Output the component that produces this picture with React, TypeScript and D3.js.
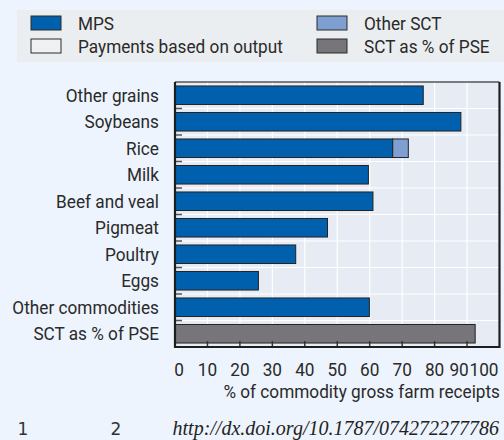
import React, { useEffect, useRef } from 'react';
import * as d3 from 'd3';

const categories = [
  'Other grains', 'Soybeans', 'Rice', 'Milk', 'Beef and veal',
  'Pigmeat', 'Poultry', 'Eggs', 'Other commodities', 'SCT as % of PSE',
];
const mps = [76.5, 88.1, 67.1, 59.6, 61.0, 47.0, 37.2, 25.7, 59.9, 0];
const otherSct = [0, 0, 4.8, 0, 0, 0, 0, 0, 0, 0];
const outputPayments = [0, 0, 0, 0, 0, 0, 0, 0, 0, 0];
const sctPse = [0, 0, 0, 0, 0, 0, 0, 0, 0, 92.5];
const xTicks = [0, 10, 20, 30, 40, 50, 60, 70, 80, 90, 100];

const legendItems = [
  { label: 'MPS', color: '#0060ae' },
  { label: 'Payments based on output', color: '#eff1f2' },
  { label: 'Other SCT', color: '#7f9fd3' },
  { label: 'SCT as % of PSE', color: '#777579' },
];

const FONT = 'Roboto, sans-serif';
const FS = 18.5;
const SX = 0.93;

type Sel = d3.Selection<SVGGElement, unknown, null, undefined>;

// condensed-looking label: Roboto squeezed horizontally
function label(parent: Sel, x: number, y: number, text: string, anchor = 'start') {
  return parent.append('text')
    .attr('transform', `translate(${x},${y}) scale(${SX},1)`)
    .attr('dy', '0.35em')
    .attr('text-anchor', anchor)
    .attr('font-family', FONT).attr('font-size', FS).attr('fill', '#2a2a2a')
    .text(text);
}

const App: React.FC = () => {
  const svgRef = useRef<SVGSVGElement>(null);

  useEffect(() => {
    if (!svgRef.current) return;
    const svg = d3.select(svgRef.current);
    svg.selectAll('*').remove();

    const width = 504, height = 440;
    const m = { left: 175, right: 3, top: 82, bottom: 93 };

    svg.append('rect').attr('width', width).attr('height', height).attr('fill', '#edf4fd');
    const root = svg.append('g') as unknown as Sel;

    // legend
    const lg = root.append('g');
    lg.append('rect').attr('x', 17).attr('y', 10).attr('width', 490).attr('height', 52).attr('fill', '#ebeef0');
    legendItems.forEach((it, i) => {
      const col = i < 2 ? 0 : 1;
      const row = i % 2;
      const x = col === 0 ? 31 : 317;
      const y = 16 + row * 23;
      lg.append('rect').attr('x', x).attr('y', y).attr('width', 30).attr('height', 14)
        .attr('fill', it.color).attr('stroke', '#2b2b2b').attr('stroke-width', 1);
      label(lg, x + 47, y + 7.5, it.label);
    });

    const x = d3.scaleLinear().domain([0, 100]).range([m.left, width - m.right - 1.5]);
    const y = d3.scaleBand().domain(categories).range([m.top, height - m.bottom]).paddingInner(0.3).paddingOuter(0.15);

    const plotB = height - m.bottom;
    const g = root.append('g');
    g.append('rect').attr('x', m.left).attr('y', m.top)
      .attr('width', x(100) - m.left).attr('height', plotB - m.top).attr('fill', '#e6ebf4');

    // grid
    g.selectAll('.vg').data(xTicks.slice(1, -1)).enter().append('line')
      .attr('x1', d => x(d)).attr('x2', d => x(d)).attr('y1', m.top).attr('y2', plotB)
      .attr('stroke', '#fff').attr('stroke-width', 1.2);
    const step = y.step();
    const bounds = categories.slice(1).map(c => (y(c) as number) - step * y.paddingInner() / 2);
    g.selectAll('.hg').data(bounds).enter().append('line')
      .attr('x1', m.left).attr('x2', x(100)).attr('y1', d => d).attr('y2', d => d)
      .attr('stroke', '#fff').attr('stroke-width', 1.2);
    g.selectAll('.yt').data(bounds).enter().append('line')
      .attr('x1', m.left).attr('x2', m.left + 7).attr('y1', d => d).attr('y2', d => d)
      .attr('stroke', '#555').attr('stroke-width', 1.5);

    // bars
    const bh = y.bandwidth();
    const stroke = '#222';
    categories.forEach((c, i) => {
      const by = y(c) as number;
      if (mps[i] > 0) g.append('rect').attr('x', x(0)).attr('y', by).attr('width', x(mps[i]) - x(0)).attr('height', bh)
        .attr('fill', legendItems[0].color).attr('stroke', stroke).attr('stroke-width', 1);
      if (outputPayments[i] > 0) g.append('rect').attr('x', x(mps[i])).attr('y', by)
        .attr('width', x(outputPayments[i]) - x(0)).attr('height', bh)
        .attr('fill', legendItems[1].color).attr('stroke', stroke).attr('stroke-width', 1);
      if (otherSct[i] > 0) g.append('rect').attr('x', x(mps[i] + outputPayments[i])).attr('y', by)
        .attr('width', x(otherSct[i]) - x(0)).attr('height', bh)
        .attr('fill', legendItems[2].color).attr('stroke', stroke).attr('stroke-width', 1);
      if (sctPse[i] > 0) g.append('rect').attr('x', x(0)).attr('y', by).attr('width', x(sctPse[i]) - x(0)).attr('height', bh)
        .attr('fill', legendItems[3].color).attr('stroke', stroke).attr('stroke-width', 1);
    });

    // bottom ticks (inward)
    g.selectAll('.xt').data(xTicks.slice(1, -1)).enter().append('line')
      .attr('x1', d => x(d)).attr('x2', d => x(d)).attr('y1', plotB).attr('y2', plotB - 6)
      .attr('stroke', '#333').attr('stroke-width', 1.5);

    // frame
    g.append('line').attr('x1', m.left).attr('x2', x(100)).attr('y1', m.top).attr('y2', m.top)
      .attr('stroke', '#555').attr('stroke-width', 1.5);
    g.append('path')
      .attr('d', `M${m.left},${m.top}V${plotB}H${x(100)}V${m.top}`)
      .attr('fill', 'none').attr('stroke', '#1e1e1e').attr('stroke-width', 2.2);

    // y labels
    categories.forEach(c => label(g as unknown as Sel, 159, (y(c) as number) + bh / 2, c, 'end'));

    // x labels
    xTicks.forEach(d => {
      const px = d === 0 ? x(d) + 4 : d === 100 ? x(d) - 1 : d === 90 ? x(d) - 8 : x(d);
      label(g as unknown as Sel, px, 370, String(d), d === 100 ? 'end' : 'middle');
    });
    label(g as unknown as Sel, 500, 392, '% of commodity gross farm receipts', 'end');

    // footer
    const fy = 429;
    svg.append('text').attr('x', 23).attr('y', fy).attr('dy', '0.35em').attr('text-anchor', 'middle')
      .attr('font-family', '"DejaVu Sans", sans-serif').attr('font-size', 17).attr('fill', '#333').text('1');
    svg.append('text').attr('x', 116).attr('y', fy).attr('dy', '0.35em').attr('text-anchor', 'middle')
      .attr('font-family', '"DejaVu Sans", sans-serif').attr('font-size', 17).attr('fill', '#333').text('2');
    svg.append('text').attr('x', 499).attr('y', fy - 1).attr('dy', '0.35em').attr('text-anchor', 'end')
      .attr('font-family', '"Liberation Serif", serif').attr('font-style', 'italic').attr('font-size', 20).attr('fill', '#222')
      .text('http://dx.doi.org/10.1787/074272277786');
  }, []);

  return (
    <div style={{ position: 'absolute', left: 0, top: 0, width: 504, height: 440 }}>
      <svg ref={svgRef} width={504} height={440} style={{ display: 'block' }} />
    </div>
  );
};

export default App;
